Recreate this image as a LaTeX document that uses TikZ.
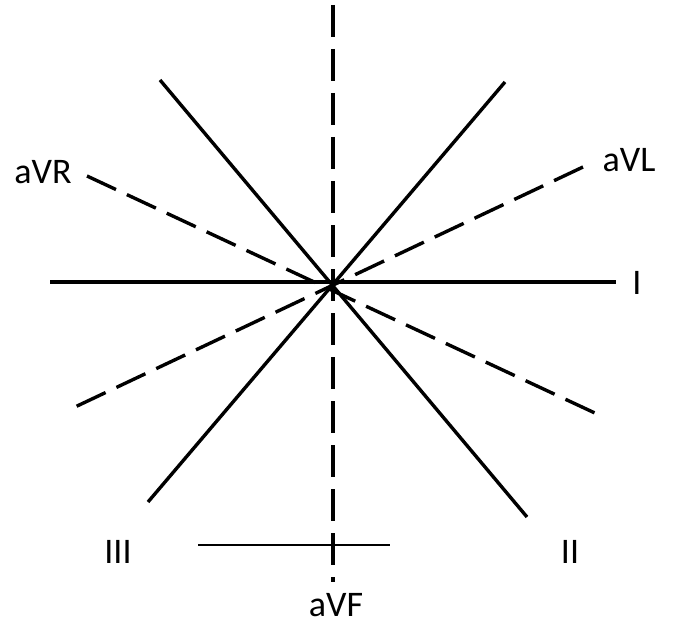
\documentclass[tikz,border=0pt]{standalone}
\usepackage{fontspec}
\setmainfont{Carlito}
\usepackage{tikz}
\usetikzlibrary{positioning}

\begin{document}
\begin{tikzpicture}[x=1pt, y=-1pt,
    limb/.style = {line width=3.4pt},
    aug/.style = {line width=3.4pt, dash pattern=on 32pt off 12pt},
    avf/.style = {line width=4.8pt, dash pattern=on 32pt off 12pt},
    lbl/.style = {font=\fontsize{36}{43}\selectfont, inner sep=0pt}]
    \useasboundingbox (0,0) rectangle (677,631);

    % 坐标定义
    \coordinate (iL) at (50,282);
    \coordinate (iR) at (616,282);
    \coordinate (iiA) at (160,80);
    \coordinate (iiB) at (527,517);
    \coordinate (iiiA) at (505,82);
    \coordinate (iiiB) at (148,502);
    \coordinate (vrA) at (87,176);
    \coordinate (vrB) at (597,414);
    \coordinate (vlA) at (583,167);
    \coordinate (vlB) at (75,407);
    \coordinate (vfA) at (333,5);
    \coordinate (vfB) at (333,582);
    \coordinate (baseL) at (198,545);
    \coordinate (baseR) at (390,545);

    % 标签
    \node[lbl] (tI) at (637,283) {I};
    \node[lbl] (tII) at (570,552) {II};
    \node[lbl] (tIII) at (118,552) {III};
    \node[lbl] (tVR) at (43,172) {aVR};
    \node[lbl] (tVL) at (629,160) {aVL};
    \node[lbl] (tVF) at (336,605) {aVF};

    % 导联轴
    \draw[limb] (iL) -- (iR);
    \draw[limb] (iiA) -- (iiB);
    \draw[limb] (iiiA) -- (iiiB);
    \draw[aug] (vrA) -- (vrB);
    \draw[aug] (vlA) -- (vlB);
    \draw[line width=1.4pt] (baseL) -- (baseR);
    \draw[avf] (vfA) -- (vfB);
\end{tikzpicture}
\end{document}
